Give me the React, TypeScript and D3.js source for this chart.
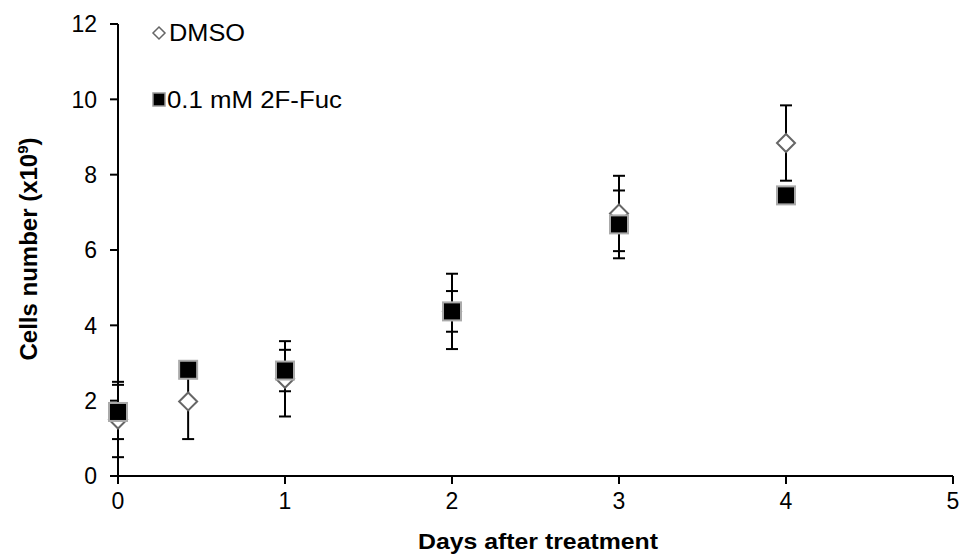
import React from "react";
import * as d3 from "d3";

const days = [0, 0.42, 1, 2, 3, 4];
const dmsoMean = [1.5, 1.98, 2.58, 4.37, 6.97, 8.84];
const dmsoErr = [1.0, 1.0, 1.0, 1.0, 1.0, 1.0];
const fucMean = [1.7, 2.82, 2.8, 4.37, 6.68, 7.45];
const fucErr = [0.72, 0.1, 0.55, 0.54, 0.9, 0.1];
const xTicks = [0, 1, 2, 3, 4, 5];
const yTicks = [0, 2, 4, 6, 8, 10, 12];
const seriesNames = ["DMSO", "0.1 mM 2F-Fuc"];

const W = 961;
const H = 557;

export default function App() {
  const x = d3.scaleLinear().domain([0, 5]).range([118, 953]);
  const y = d3.scaleLinear().domain([0, 12]).range([476, 24]);
  const font = "'Liberation Sans', Arial, sans-serif";
  const cap = 6;

  const errBars = (means: number[], errs: number[], key: string) =>
    days.map((d, i) => {
      const cx = x(d);
      const y1 = y(means[i] + errs[i]);
      const y2 = y(means[i] - errs[i]);
      return (
        <g key={key + i} stroke="#000" strokeWidth={2}>
          <line x1={cx} x2={cx} y1={y1} y2={y2} />
          <line x1={cx - cap} x2={cx + cap} y1={y1} y2={y1} />
          <line x1={cx - cap} x2={cx + cap} y1={y2} y2={y2} />
        </g>
      );
    });

  const diamond = (cx: number, cy: number, r: number) =>
    `M${cx},${cy - r}L${cx + r},${cy}L${cx},${cy + r}L${cx - r},${cy}Z`;

  return (
    <svg
      width={W}
      height={H}
      style={{ position: "absolute", left: 0, top: 0, background: "#fff" }}
      fontFamily={font}
    >
      <rect x={0} y={0} width={W} height={H} fill="#fff" />
      {/* axes */}
      <line x1={x(0)} x2={x(0)} y1={y(12)} y2={y(0)} stroke="#000" strokeWidth={2} />
      <line x1={x(0) - 8} x2={x(5)} y1={y(0)} y2={y(0)} stroke="#000" strokeWidth={2} />
      {yTicks.map((t) => (
        <g key={"yt" + t}>
          <line x1={x(0) - 8} x2={x(0)} y1={y(t)} y2={y(t)} stroke="#000" strokeWidth={2} />
          <text x={97} y={y(t)} dy="0.36em" textAnchor="end" fontSize={23} fill="#000">
            {t}
          </text>
        </g>
      ))}
      {xTicks.map((t) => (
        <g key={"xt" + t}>
          <line x1={x(t)} x2={x(t)} y1={y(0)} y2={y(0) + 8} stroke="#000" strokeWidth={2} />
          <text x={x(t)} y={509} textAnchor="middle" fontSize={23} fill="#000">
            {t}
          </text>
        </g>
      ))}
      {/* axis titles */}
      <text
        x={538}
        y={549}
        textAnchor="middle"
        fontSize={22}
        fontWeight="bold"
        fill="#000"
        textLength={240}
        lengthAdjust="spacingAndGlyphs"
      >
        Days after treatment
      </text>
      <text
        transform={`translate(37,${249}) rotate(-90)`}
        textAnchor="middle"
        fontSize={24}
        fontWeight="bold"
        fill="#000"
      >
        Cells number (x10<tspan dy={-9} fontSize={15}>9</tspan>
        <tspan dy={9}>)</tspan>
      </text>
      {/* error bars */}
      {errBars(dmsoMean, dmsoErr, "de")}
      {errBars(fucMean, fucErr, "fe")}
      {/* DMSO markers */}
      {days.map((d, i) => (
        <path
          key={"dm" + i}
          d={diamond(x(d), y(dmsoMean[i]), 9)}
          fill="#fff"
          stroke="#666"
          strokeWidth={2}
        />
      ))}
      {/* 2F-Fuc markers */}
      {days.map((d, i) => (
        <rect
          key={"fm" + i}
          x={x(d) - 9}
          y={y(fucMean[i]) - 9}
          width={18}
          height={18}
          fill="#000"
          stroke="#aaa"
          strokeWidth={2}
        />
      ))}
      {/* legend */}
      <path d={diamond(159, 33, 6)} fill="#fff" stroke="#666" strokeWidth={1.5} />
      <text
        x={169}
        y={33}
        dy="0.36em"
        fontSize={23}
        fill="#000"
        textLength={76}
        lengthAdjust="spacingAndGlyphs"
      >
        {seriesNames[0]}
      </text>
      <rect x={153} y={93} width={12} height={13} fill="#000" stroke="#999" strokeWidth={1.5} />
      <text
        x={167}
        y={100}
        dy="0.36em"
        fontSize={23}
        fill="#000"
        textLength={175}
        lengthAdjust="spacingAndGlyphs"
      >
        {seriesNames[1]}
      </text>
    </svg>
  );
}
